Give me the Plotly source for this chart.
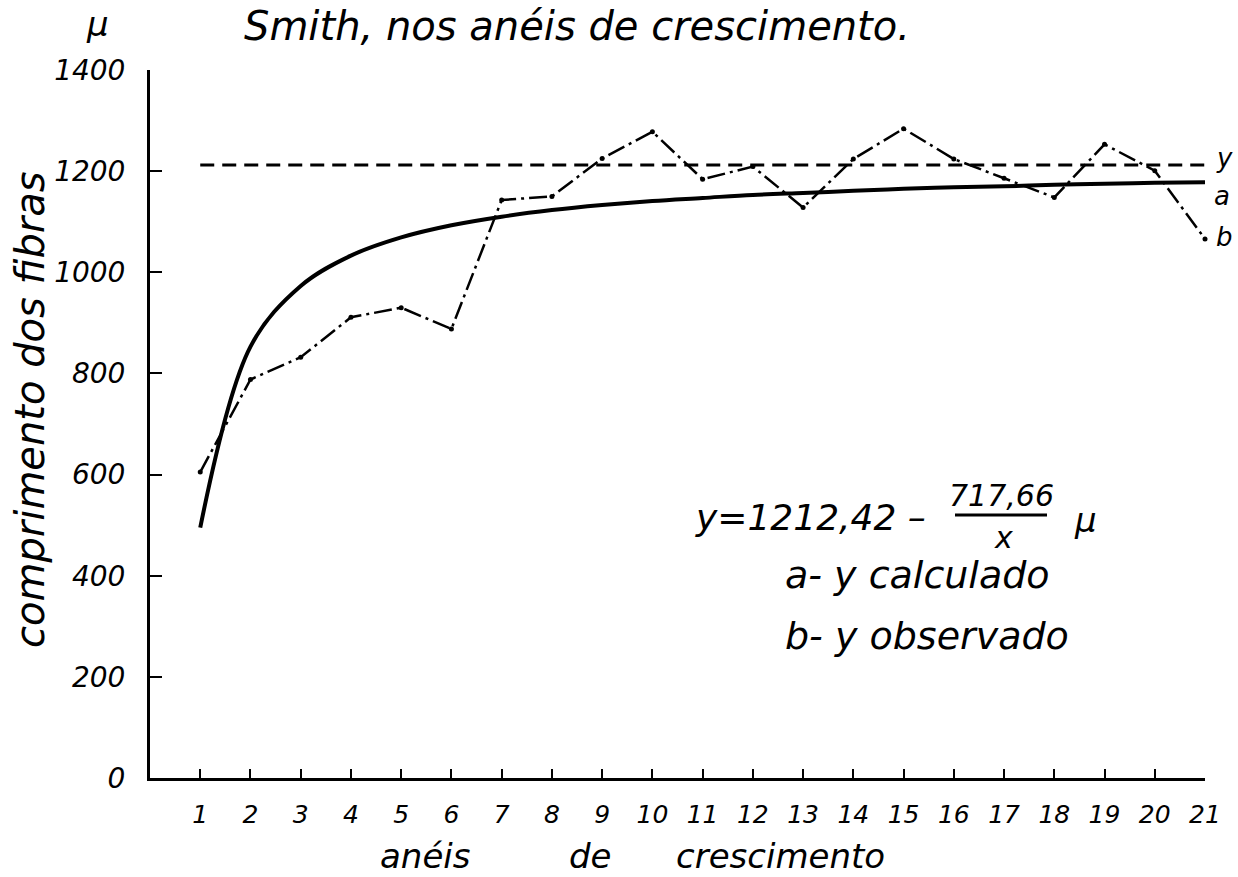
import plotly.graph_objects as go

# ---- data ----
aneis = list(range(1, 22))
x_labels = [str(i) for i in aneis]
y_observado = [605, 788, 832, 911, 930, 888, 1143, 1150, 1225, 1278, 1184,
               1209, 1128, 1224, 1284, 1224, 1186, 1148, 1253, 1201, 1066]
y_calculado = [495, 853, 973, 1033, 1069, 1093, 1110, 1123, 1133, 1141, 1147,
               1153, 1157, 1161, 1165, 1168, 1170, 1173, 1175, 1177, 1178]
y_limite_x = [1, 21]
y_limite = [1212, 1212]
y_ticks = [0, 200, 400, 600, 800, 1000, 1200, 1400]

W, H = 1238, 877
L, R, T, B = 150, 1205, 70, 778  # plot area in pixels

def px(xp):
    return (xp - L) / (R - L)

def py(yp):
    return (B - yp) / (B - T)

FONT = "DejaVu Sans"

fig = go.Figure()

fig.add_trace(go.Scatter(
    x=y_limite_x, y=y_limite, mode="lines",
    line=dict(color="black", width=3, dash="14px,8px"),
    showlegend=False, cliponaxis=False))

fig.add_trace(go.Scatter(
    x=aneis, y=y_calculado, mode="lines",
    line=dict(color="black", width=4, shape="spline", smoothing=1.0),
    showlegend=False, cliponaxis=False))

fig.add_trace(go.Scatter(
    x=aneis, y=y_observado, mode="lines+markers",
    line=dict(color="black", width=2.5, dash="18px,5px,3px,5px"),
    marker=dict(color="black", size=5),
    showlegend=False, cliponaxis=False))

fig.update_xaxes(
    range=[0, 21], showgrid=False, zeroline=False,
    showline=True, linecolor="black", linewidth=3,
    tickmode="array", tickvals=aneis, ticktext=x_labels,
    ticks="inside", ticklen=9, tickwidth=2, tickcolor="black",
    tickfont=dict(family=FONT, size=25, color="black", style="italic"),
    ticklabelstandoff=12,
)
fig.update_yaxes(
    range=[0, 1400], showgrid=False, zeroline=False,
    showline=True, linecolor="black", linewidth=3,
    tickmode="array", tickvals=y_ticks,
    ticks="inside", ticklen=12, tickwidth=2, tickcolor="black",
    tickfont=dict(family=FONT, size=28, color="black", style="italic"),
    ticklabelstandoff=16,
)

ann = []
def add_text(t, xp, ypx, size, xanchor="center", angle=0):
    ann.append(dict(text=t, x=px(xp), y=py(ypx), xref="paper", yref="paper",
                    showarrow=False, xanchor=xanchor, yanchor="middle",
                    textangle=angle,
                    font=dict(family=FONT, size=size, color="black", style="italic")))

add_text("Smith, nos anéis de crescimento.", 242, 26, 40, xanchor="left")
add_text("μ", 97, 24, 34)
add_text("comprimento dos fibras", 30, 410, 40, angle=-90)
add_text("anéis", 425, 856, 34)
add_text("de", 590, 856, 34)
add_text("crescimento", 780, 856, 34)
add_text("y=1212,42 –", 693, 517, 36, xanchor="left")
add_text("717,66", 1001, 496, 30)
add_text("x", 1003, 537, 30)
add_text("μ", 1085, 520, 34)
add_text("a- y calculado", 783, 575, 38, xanchor="left")
add_text("b- y observado", 783, 636, 38, xanchor="left")
add_text("y", 1224, 158, 26)
add_text("a", 1222, 196, 26)
add_text("b", 1224, 237, 26)

fig.update_layout(
    width=W, height=H,
    margin=dict(l=L, r=W - R, t=T, b=H - B),
    paper_bgcolor="white", plot_bgcolor="white",
    annotations=ann,
    shapes=[dict(type="line", xref="paper", yref="paper",
                 x0=px(955), x1=px(1047), y0=py(515), y1=py(515),
                 line=dict(color="black", width=3))],
)

fig.write_html("out.html", config={"displayModeBar": False},
               post_script="document.body.style.margin='0';document.body.style.overflow='hidden';")
